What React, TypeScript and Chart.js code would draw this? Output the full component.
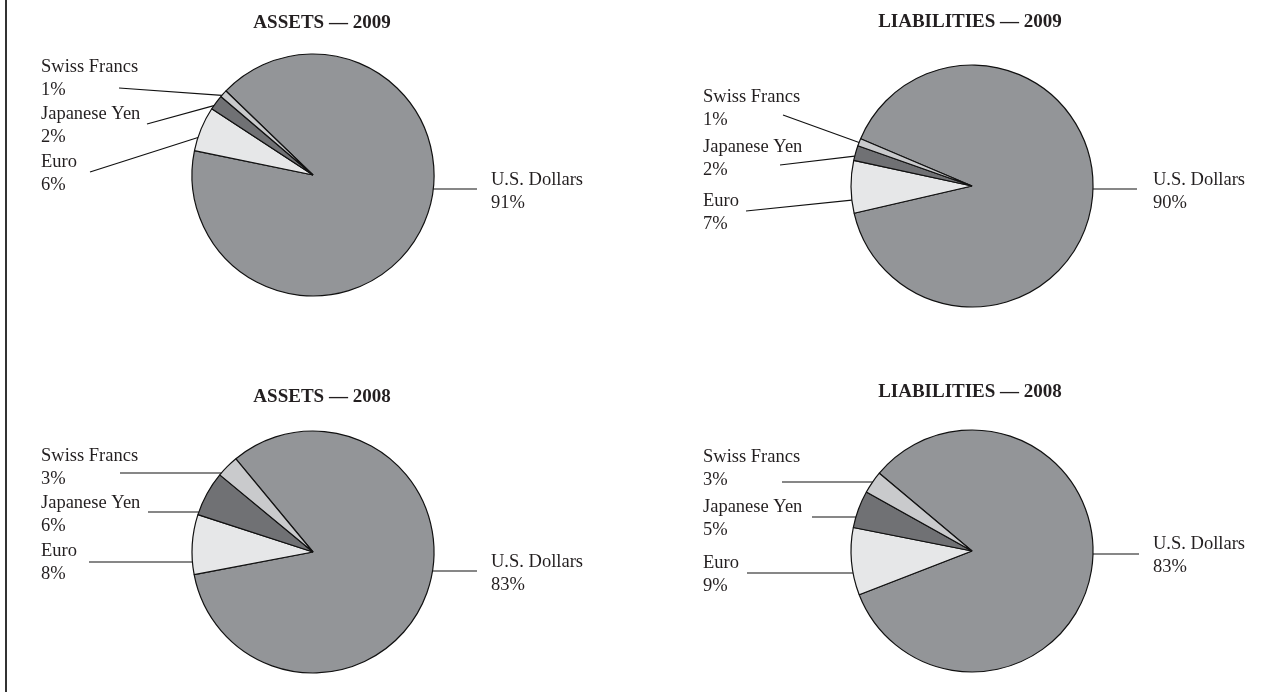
import React, { useEffect, useRef } from "react";
import { Chart, registerables } from "chart.js";

Chart.register(...registerables);

// ---- data ----
const categories = ["U.S. Dollars", "Euro", "Japanese Yen", "Swiss Francs"];
const assets2009 = [91, 6, 2, 1];
const liabilities2009 = [90, 7, 2, 1];
const assets2008 = [83, 8, 6, 3];
const liabilities2008 = [83, 9, 5, 3];
const titles = ["ASSETS — 2009", "LIABILITIES — 2009", "ASSETS — 2008", "LIABILITIES — 2008"];

// ---- style ----
const sliceColors = ["#939598", "#e6e7e8", "#707174", "#c9cacc"];
const TEXT_COLOR = "#231f20";
const FONT_FAMILY = '"Liberation Serif", "DejaVu Serif", serif';
const PANEL_W = 636;
const PANEL_H = 346;
const PIE_R = 121;
const LINE_GAP = 22.5;

type Leader = { tx: number; ty: number; sx: number; sy: number; mode: "h" | "f"; frac?: number };
type Panel = {
  title: string;
  values: number[];
  ox: number;
  oy: number;
  cx: number;
  cy: number;
  rotation: number;
  titleX: number;
  titleY: number;
  labels: Leader[]; // same order as categories
};

const panels: Panel[] = [
  {
    title: titles[0], values: assets2009, ox: 0, oy: 0, cx: 313, cy: 175, rotation: -46, titleX: 322, titleY: 28,
    labels: [
      { tx: 491, ty: 185, sx: 477, sy: 189, mode: "h" },
      { tx: 41, ty: 167, sx: 90, sy: 172, mode: "f", frac: 0.3 },
      { tx: 41, ty: 119, sx: 147, sy: 124, mode: "f", frac: 0.25 },
      { tx: 41, ty: 72, sx: 119, sy: 88, mode: "f", frac: 0.2 },
    ],
  },
  {
    title: titles[1], values: liabilities2009, ox: 636, oy: 0, cx: 972, cy: 186, rotation: -67, titleX: 970, titleY: 27,
    labels: [
      { tx: 1153, ty: 185, sx: 1137, sy: 189, mode: "h" },
      { tx: 703, ty: 206, sx: 746, sy: 211, mode: "f", frac: 0.25 },
      { tx: 703, ty: 152, sx: 780, sy: 165, mode: "f", frac: 0.29 },
      { tx: 703, ty: 102, sx: 783, sy: 115, mode: "f", frac: 0.47 },
    ],
  },
  {
    title: titles[2], values: assets2008, ox: 0, oy: 346, cx: 313, cy: 552, rotation: -39.6, titleX: 322, titleY: 402,
    labels: [
      { tx: 491, ty: 567, sx: 477, sy: 571, mode: "h" },
      { tx: 41, ty: 556, sx: 89, sy: 562, mode: "h" },
      { tx: 41, ty: 508, sx: 148, sy: 512, mode: "h" },
      { tx: 41, ty: 461, sx: 120, sy: 473, mode: "h" },
    ],
  },
  {
    title: titles[3], values: liabilities2008, ox: 636, oy: 346, cx: 972, cy: 551, rotation: -50, titleX: 970, titleY: 397,
    labels: [
      { tx: 1153, ty: 549, sx: 1139, sy: 554, mode: "h" },
      { tx: 703, ty: 568, sx: 747, sy: 573, mode: "h" },
      { tx: 703, ty: 512, sx: 812, sy: 517, mode: "h" },
      { tx: 703, ty: 462, sx: 782, sy: 482, mode: "h" },
    ],
  },
];

function PiePanel({ panel, idx }: { panel: Panel; idx: number }) {
  const ref = useRef<HTMLCanvasElement | null>(null);
  useEffect(() => {
    if (!ref.current) return;
    const { ox, oy } = panel;
    const lcx = panel.cx - ox;
    const lcy = panel.cy - oy;
    const box = PIE_R + 4;
    const annot = {
      id: "annot" + idx,
      afterDraw(chart: any) {
        const ctx = chart.ctx as CanvasRenderingContext2D;
        const meta = chart.getDatasetMeta(0);
        ctx.save();
        ctx.fillStyle = TEXT_COLOR;
        ctx.font = `bold 19px ${FONT_FAMILY}`;
        ctx.textAlign = "center";
        ctx.textBaseline = "alphabetic";
        ctx.fillText(panel.title, panel.titleX - ox, panel.titleY - oy);
        ctx.font = `18.5px ${FONT_FAMILY}`;
        ctx.textAlign = "left";
        ctx.strokeStyle = "#111";
        ctx.lineWidth = 1.2;
        panel.labels.forEach((lab, i) => {
          const arc = meta.data[i];
          if (!arc) return;
          const { x, y, startAngle, endAngle, outerRadius } = arc.getProps(
            ["x", "y", "startAngle", "endAngle", "outerRadius"],
            true
          );
          const sx = lab.sx - ox;
          const sy = lab.sy - oy;
          let ex: number, ey: number;
          if (lab.mode === "h") {
            const dy = sy - y;
            const dx = Math.sqrt(Math.max(outerRadius * outerRadius - dy * dy, 0));
            ex = sx < x ? x - dx : x + dx;
            ey = sy;
          } else {
            const a = startAngle + (lab.frac ?? 0.5) * (endAngle - startAngle);
            ex = x + outerRadius * Math.cos(a);
            ey = y + outerRadius * Math.sin(a);
          }
          ctx.beginPath();
          ctx.moveTo(sx, sy);
          ctx.lineTo(ex, ey);
          ctx.stroke();
          ctx.fillText(categories[i], lab.tx - ox, lab.ty - oy);
          ctx.fillText(panel.values[i] + "%", lab.tx - ox, lab.ty - oy + LINE_GAP);
        });
        ctx.restore();
      },
    };
    const chart = new Chart(ref.current, {
      type: "pie",
      data: {
        labels: categories,
        datasets: [
          {
            data: panel.values,
            backgroundColor: sliceColors,
            borderColor: "#111",
            borderWidth: 1.2,
            hoverOffset: 0,
          } as any,
        ],
      },
      options: {
        responsive: false,
        animation: false,
        events: [],
        rotation: panel.rotation,
        radius: PIE_R,
        layout: {
          padding: {
            left: lcx - box,
            right: PANEL_W - lcx - box,
            top: lcy - box,
            bottom: PANEL_H - lcy - box,
          },
        },
        plugins: { legend: { display: false }, tooltip: { enabled: false }, title: { display: false } },
      } as any,
      plugins: [annot as any],
    });
    return () => chart.destroy();
  }, [panel, idx]);
  return (
    <canvas
      ref={ref}
      width={PANEL_W}
      height={PANEL_H}
      style={{ position: "absolute", left: panel.ox, top: panel.oy, width: PANEL_W, height: PANEL_H, display: "block" }}
    />
  );
}

export default function App() {
  return (
    <div style={{ position: "absolute", left: 0, top: 0, width: 1272, height: 692, background: "#fff", overflow: "hidden" }}>
      <div style={{ position: "absolute", left: 5, top: 0, width: 2, height: 692, background: "#333" }} />
      {panels.map((p, i) => (
        <PiePanel key={i} panel={p} idx={i} />
      ))}
    </div>
  );
}
